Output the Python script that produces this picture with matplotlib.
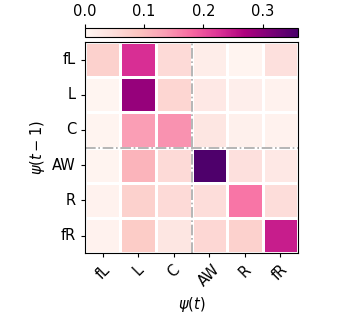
import matplotlib
matplotlib.use("Agg")
import matplotlib.pyplot as plt
import numpy as np
import seaborn as sns

labels = ["fL", "L", "C", "AW", "R", "fR"]
# rows: psi(t-1), columns: psi(t)
row_fL = [0.070, 0.230, 0.055, 0.020, 0.007, 0.045]
row_L = [0.005, 0.290, 0.062, 0.030, 0.018, 0.010]
row_C = [0.007, 0.135, 0.145, 0.035, 0.015, 0.010]
row_AW = [0.007, 0.110, 0.055, 0.355, 0.045, 0.030]
row_R = [0.010, 0.070, 0.055, 0.050, 0.170, 0.050]
row_fR = [0.010, 0.080, 0.035, 0.060, 0.070, 0.245]

M = np.array([row_fL, row_L, row_C, row_AW, row_R, row_fR])

fig = plt.figure(figsize=(3.54, 3.14), dpi=100)
ax = fig.add_axes([0.24, 0.194, 0.602, 0.672])
cax = fig.add_axes([0.24, 0.882, 0.602, 0.03])

sns.heatmap(M, ax=ax, cbar_ax=cax, cmap="RdPu", vmin=0, vmax=0.36,
            linewidths=0.8, linecolor="white", square=False,
            xticklabels=labels, yticklabels=labels,
            cbar_kws={"orientation": "horizontal", "ticks": [0.0, 0.1, 0.2, 0.3]})

ax.axhline(3, color="darkgray", ls="-.", lw=1.2)
ax.axvline(3, color="darkgray", ls="-.", lw=1.2)

for s in ax.spines.values():
    s.set_visible(True)
    s.set_color("black")
    s.set_linewidth(0.8)

ax.tick_params(axis="both", labelsize=10.5, length=3)
ax.set_yticklabels(labels, rotation=0)
ax.set_xticklabels(labels, rotation=45)
ax.set_xlabel(r"$\psi(t)$", fontsize=10.5)
ax.set_ylabel(r"$\psi(t-1)$", fontsize=10.5)

cax.xaxis.set_ticks_position("top")
cax.tick_params(labelsize=10.5, length=3)
cax.set_xticklabels(["0.0", "0.1", "0.2", "0.3"])
cb = ax.collections[0].colorbar
cb.outline.set_visible(True)
cb.outline.set_edgecolor("black")
cb.outline.set_linewidth(0.8)

fig.savefig("out.png", dpi=100)
